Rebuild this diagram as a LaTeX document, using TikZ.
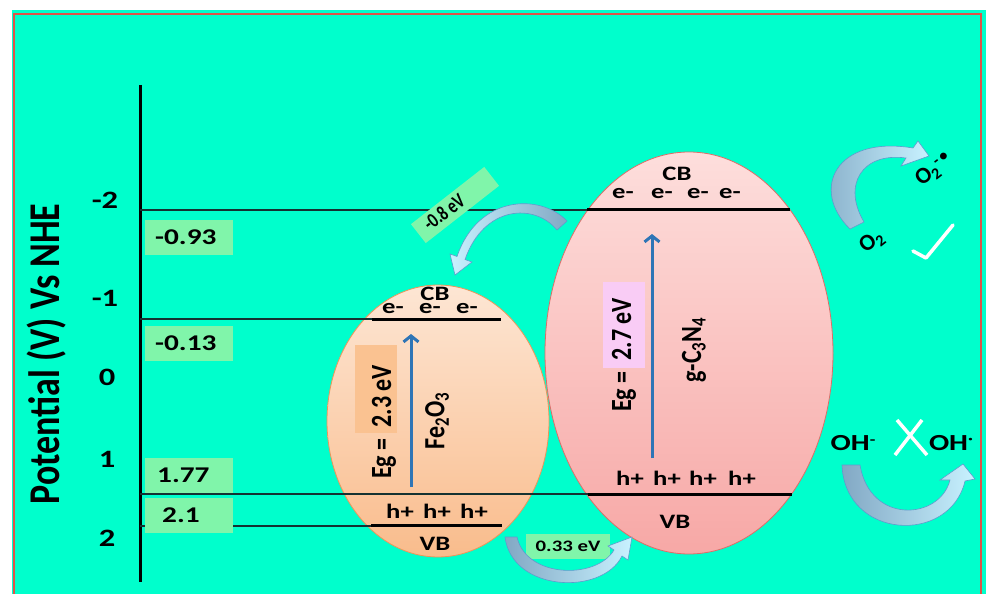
\documentclass[tikz,border=0pt]{standalone}
\usepackage{fontspec}
\setmainfont{Carlito}
\usetikzlibrary{arrows.meta}
\definecolor{bgteal}{RGB}{0,255,204}
\definecolor{frame}{RGB}{222,84,72}
\definecolor{greenbox}{RGB}{128,245,170}
\definecolor{peachtop}{RGB}{253,230,212}
\definecolor{peachbot}{RGB}{249,188,140}
\definecolor{peachedge}{RGB}{235,150,90}
\definecolor{pinktop}{RGB}{253,222,220}
\definecolor{pinkbot}{RGB}{247,168,166}
\definecolor{pinkedge}{RGB}{220,110,105}
\definecolor{orangebox}{RGB}{250,194,145}
\definecolor{magbox}{RGB}{249,204,245}
\definecolor{arrblue}{RGB}{46,117,182}
\definecolor{grayb}{RGB}{130,168,196}
\definecolor{cyanl}{RGB}{200,242,255}
\definecolor{ribedge}{RGB}{95,155,205}
\definecolor{levelc}{RGB}{20,50,50}
\newcommand{\hs}[1]{\scalebox{1.3}[1]{#1}}
\newcommand{\vs}[1]{\scalebox{1}[1.22]{#1}}
\newcommand{\fs}[1]{\fontsize{#1}{#1}\selectfont\bfseries}
\begin{document}
\begin{tikzpicture}[x=1pt,y=-1pt,
  lbl/.style={font=\fs{20.5}, inner sep=0pt},
  ticklbl/.style={font=\fs{25}, inner sep=0pt},
  valtxt/.style={font=\fs{22.5}, inner sep=0pt, anchor=west},
  valbox/.style={fill=greenbox, minimum width=88pt, minimum height=35pt, inner sep=0pt},
  level/.style={draw=levelc, line width=1.1pt},
  band/.style={draw=black, line width=3pt},
  gaparrow/.style={draw=arrblue, line width=3pt, -{Straight Barb[length=6pt,width=15pt]}},
  ribbon/.style={draw=ribedge, line width=0.6pt},
  rottxt/.style={font=\fs{24}, inner sep=0pt, rotate=90},
  species/.style={font=\fs{23}, inner sep=0pt},
  whitestroke/.style={draw=white, line width=3.5pt, line cap=round, line join=round}
]
\useasboundingbox (0,0) rectangle (986,594);
% background and frame
\fill[white] (0,0) rectangle (986,594);
\fill[bgteal] (12,10) rectangle (986,594);
\draw[frame, line width=2.5pt] (14,594) -- (14,14) -- (981,14) -- (981,594);

% axis
\draw[black, line width=3pt] (140,85) -- (140,582);
\node[rotate=90, font=\fs{36}, inner sep=0pt] (ylab) at (47,354) {\vs{Potential (V) Vs NHE}};
\node[ticklbl] (t1) at (105,200) {\hs{-2}};
\node[ticklbl] (t2) at (105,298) {\hs{-1}};
\node[ticklbl] (t3) at (107,377) {\hs{0}};
\node[ticklbl] (t4) at (107,459) {\hs{1}};
\node[ticklbl] (t5) at (107,538) {\hs{2}};

% ellipses
\shade[top color=peachtop, bottom color=peachbot, draw=peachedge, line width=0.8pt] (438,421) ellipse [x radius=111, y radius=136];
\shade[top color=pinktop, bottom color=pinkbot, draw=pinkedge, line width=0.8pt] (689,353) ellipse [x radius=144, y radius=201];

% level lines
\draw[level] (140,210) -- (587,210);
\draw[level] (140,319) -- (372,319);
\draw[level] (140,494) -- (588,494);
\draw[level] (140,526) -- (372,526);

% band lines
\draw[band] (372,319) -- (501,319);
\draw[band] (371,525) -- (502,525);
\draw[band] (587,209) -- (790,209);
\draw[band] (588,494) -- (792,494);

% value boxes
\node[valbox] (b1) at (189,237) {};
\node[valbox] (b2) at (189,343) {};
\node[valbox] (b3) at (189,475.5) {};
\node[valbox] (b4) at (189,515) {};
\node[valtxt] (v1) at (155,237) {\hs{-0.93}};
\node[valtxt] (v2) at (155,343) {\hs{-0.13}};
\node[valtxt] (v3) at (157,475.5) {\hs{1.77}};
\node[valtxt] (v4) at (162,515) {\hs{2.1}};

% Fe2O3 contents
\fill[orangebox] (355,345) rectangle (397,433);
\draw[gaparrow] (411,487) -- (411,334);
\node[lbl] (cb1) at (435,294) {\hs{CB}};
\node[lbl] (e11) at (393,309) {\hs{e-}};
\node[lbl] (e12) at (430,309) {\hs{e-}};
\node[lbl] (e13) at (467,309) {\hs{e-}};
\node[lbl] (h11) at (400,511) {\hs{h+}};
\node[lbl] (h12) at (437,511) {\hs{h+}};
\node[lbl] (h13) at (474,511) {\hs{h+}};
\node[lbl] (vb1) at (435,544) {\hs{VB}};
\node[rottxt] (eg1) at (384,422) {\vs{Eg =\ \ 2.3 eV}};
\node[rottxt] (fe) at (437,421) {\vs{Fe\textsubscript{2}O\textsubscript{3}}};

% g-C3N4 contents
\fill[magbox] (603,282) rectangle (645,368);
\draw[gaparrow] (652,458) -- (652,234);
\node[lbl] (cb2) at (677,174) {\hs{CB}};
\node[lbl] (e21) at (623,194) {\hs{e-}};
\node[lbl] (e22) at (662,194) {\hs{e-}};
\node[lbl] (e23) at (698,194) {\hs{e-}};
\node[lbl] (e24) at (730,194) {\hs{e-}};
\node[lbl] (h21) at (630,478) {\hs{h+}};
\node[lbl] (h22) at (667,478) {\hs{h+}};
\node[lbl] (h23) at (703,478) {\hs{h+}};
\node[lbl] (h24) at (742,478) {\hs{h+}};
\node[lbl] (vb2) at (675,522) {\hs{VB}};
\node[rottxt] (eg2) at (624,355) {\vs{Eg =\ \ 2.7 eV}};
\node[rottxt] (gcn) at (694,350) {\vs{g-C\textsubscript{3}N\textsubscript{4}}};

% transfer boxes
\node[fill=greenbox, rotate=38, minimum width=93pt, minimum height=24pt, inner sep=0pt] (d08) at (455,205) {};
\node[rotate=38, inner sep=0pt, font=\fs{16}] (d08t) at (444,212) {\scalebox{1}[1.3]{-0.8 eV}};
\node[fill=greenbox, minimum width=84pt, minimum height=25pt, inner sep=0pt, font=\fs{16}] (d033) at (568,546) {\hs{0.33 eV}};

% ribbon arrows
\shade[ribbon, left color=cyanl, right color=grayb] (567,221) .. controls (540,193) and (478,195) .. (457,256.5) -- (450,254) -- (455,275) -- (472,262) -- (465,259.5) .. controls (484,205) and (535,203) .. (557,230) -- cycle;
\shade[ribbon, left color=grayb, right color=cyanl] (505,537) .. controls (512,592) and (602,596) .. (622,556) -- (628,560) -- (632,537) -- (608,546) -- (614,550) .. controls (596,580) and (526,578) .. (517,537) -- cycle;
\shade[ribbon, left color=grayb, right color=cyanl] (850,229) .. controls (810,190) and (835,135) .. (913,148) -- (918,141) -- (929,156) -- (901,166) -- (906,158) .. controls (862,152) and (842,185) .. (864,222) -- cycle;
\shade[ribbon, left color=grayb, right color=cyanl] (842,465) .. controls (845,540) and (950,545) .. (965,481) -- (975,479) -- (963,464) -- (940,480) -- (950,480) .. controls (940,520) and (870,525) .. (860,465) -- cycle;

% right side species
\node[species, rotate=38] (o2) at (872,242) {O\textsubscript{2}};
\node[species, rotate=38] (o2r) at (934,170) {O\textsubscript{2}\raisebox{0.55ex}{\fs{16}-\,\textbullet}};
\draw[whitestroke] (913,251) -- (926,258) -- (953,225);
\node[species] (oh1) at (853,443) {\hs{OH\raisebox{0.5ex}{\fs{14}-}}};
\node[species] (oh2) at (951,443) {\hs{OH\raisebox{0.6ex}{\fs{14}\textperiodcentered}}};
\draw[whitestroke, line cap=butt] (897,420) -- (927,455);
\draw[whitestroke, line cap=butt] (922,420) -- (895,455);
\end{tikzpicture}
\end{document}
